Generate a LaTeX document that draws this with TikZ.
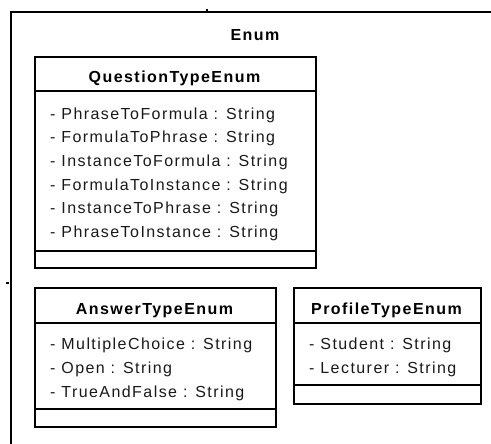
\documentclass[tikz,border=0pt]{standalone}
\usepackage{fontspec}
\setmainfont{Liberation Sans}[LetterSpace=9]
\begin{document}
\begin{tikzpicture}[x=1pt,y=-1pt,
  umlbox/.style={draw, line width=2.4pt, rectangle, inner sep=0pt, anchor=north west},
  frameline/.style={line width=2.6pt},
  sepline/.style={line width=1.6pt},
  ttl/.style={font=\fontsize{16}{19}\selectfont\bfseries, anchor=base, inner sep=0pt},
  attr/.style={font=\fontsize{16}{19}\selectfont, anchor=base west, inner sep=0pt, text=black!90}]
\useasboundingbox (0,0) rectangle (491,444);
% outer frame
\coordinate (fTL) at (11,12);
\coordinate (fTR) at (491,12);
\coordinate (fBL) at (11,444);
\draw[frameline] (fTR) -- (fTL) -- (fBL);
\coordinate (tk1) at (207,9);
\coordinate (tk2) at (207,12);
\draw[line width=1.5pt] (tk1) -- (tk2);
\coordinate (lk1) at (6,283);
\coordinate (lk2) at (9,283);
\draw[line width=1.5pt] (lk1) -- (lk2);
\node[ttl] (enum) at (255,41) {Enum};
% QuestionTypeEnum
\node[umlbox, minimum width=281pt, minimum height=211pt] (q) at (34,56) {};
\draw[sepline] (q.west |- 0,91) -- (q.east |- 0,91);
\draw[sepline] (q.west |- 0,251) -- (q.east |- 0,251);
\node[ttl] (qt) at (174.5,83) {QuestionTypeEnum};
\node[attr] (q1) at (50,119.5) {- PhraseToFormula : String};
\node[attr] (q2) at (50,143) {- FormulaToPhrase : String};
\node[attr] (q3) at (50,166.5) {- InstanceToFormula : String};
\node[attr] (q4) at (50,190) {- FormulaToInstance : String};
\node[attr] (q5) at (50,213.5) {- InstanceToPhrase : String};
\node[attr] (q6) at (50,237) {- PhraseToInstance : String};
% AnswerTypeEnum
\node[umlbox, minimum width=241pt, minimum height=139pt] (a) at (34,287) {};
\draw[sepline] (a.west |- 0,323) -- (a.east |- 0,323);
\draw[sepline] (a.west |- 0,409) -- (a.east |- 0,409);
\node[ttl] (at) at (154.5,314) {AnswerTypeEnum};
\node[attr] (a1) at (50,349.5) {- MultipleChoice : String};
\node[attr] (a2) at (50,373.5) {- Open : String};
\node[attr] (a3) at (50,397.5) {- TrueAndFalse : String};
% ProfileTypeEnum
\node[umlbox, minimum width=187pt, minimum height=116pt] (p) at (293,287) {};
\draw[sepline] (p.west |- 0,323) -- (p.east |- 0,323);
\draw[sepline] (p.west |- 0,385) -- (p.east |- 0,385);
\node[ttl] (pt) at (386.5,314) {ProfileTypeEnum};
\node[attr] (p1) at (309,349.5) {- Student : String};
\node[attr] (p2) at (309,373.5) {- Lecturer : String};
\end{tikzpicture}
\end{document}
